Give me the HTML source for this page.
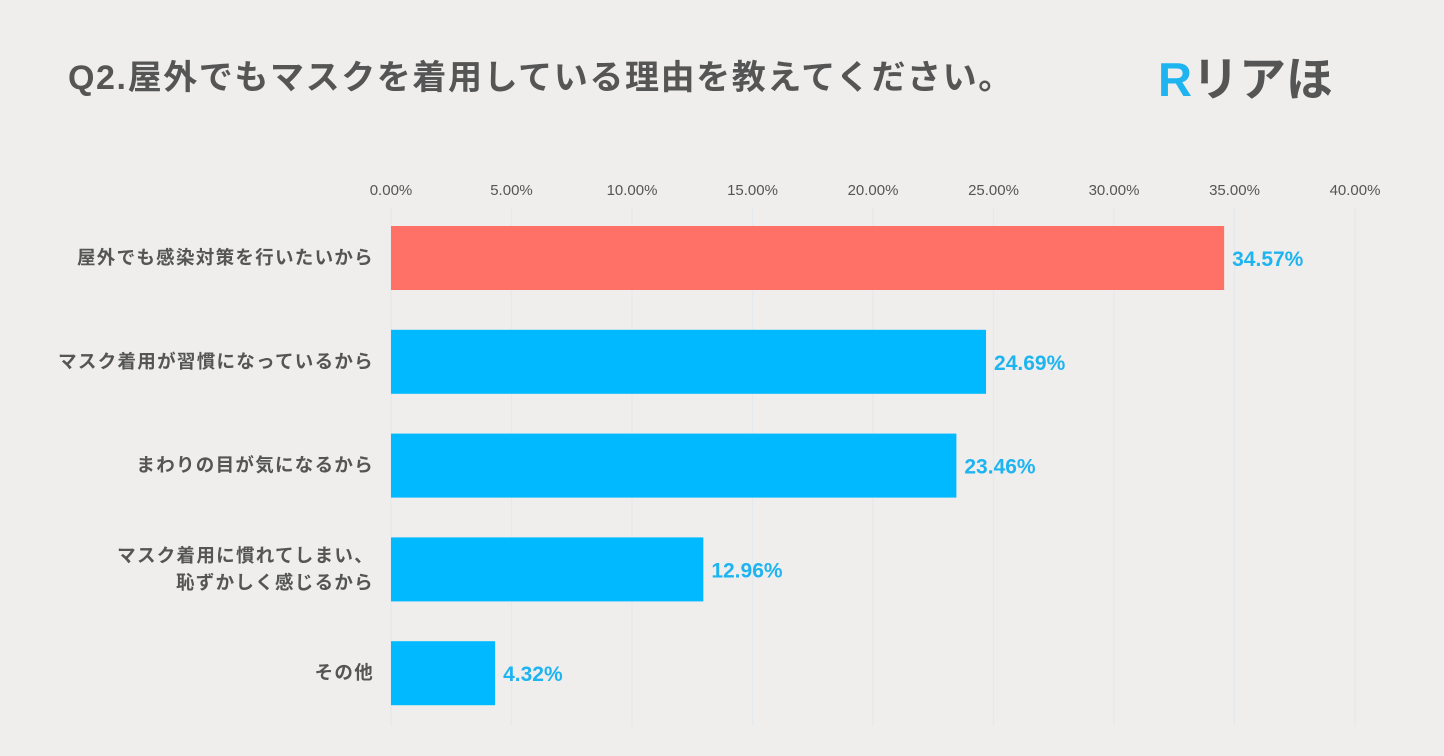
<!DOCTYPE html>
<html><head><meta charset="utf-8"><style>
html,body{margin:0;padding:0;background:#efeeed;}
body{width:1444px;height:756px;position:relative;overflow:hidden;font-family:"Liberation Sans","Noto Sans CJK JP",sans-serif;}
#title{position:absolute;left:68px;top:50px;font-size:34px;font-weight:bold;color:#555;letter-spacing:1.6px;white-space:nowrap;}
#logo{position:absolute;left:1158px;top:50px;font-size:47px;font-weight:bold;color:#555;white-space:nowrap;line-height:60px;}
#logo .r{color:#1eb4f0;}
</style></head><body>
<div id="title">Q2.屋外でもマスクを着用している理由を教えてください。</div>
<div id="logo"><span class="r">R</span>リアほ</div>
<svg id="chart" width="1444" height="756" style="position:absolute;left:0;top:0"></svg>
<script>
const categories=[["屋外でも感染対策を行いたいから"],["マスク着用が習慣になっているから"],["まわりの目が気になるから"],["マスク着用に慣れてしまい、","恥ずかしく感じるから"],["その他"]];
const values=[34.57,24.69,23.46,12.96,4.32];
const valueLabels=["34.57%","24.69%","23.46%","12.96%","4.32%"];
const ticks=[0,5,10,15,20,25,30,35,40];
const tickLabels=["0.00%","5.00%","10.00%","15.00%","20.00%","25.00%","30.00%","35.00%","40.00%"];
const svg=document.getElementById('chart');
const NS='http://www.w3.org/2000/svg';
const x=v=>391+v*24.1;
const y=i=>258+i*103.8;
function mk(t,a){const e=document.createElementNS(NS,t);for(const k in a)e.setAttribute(k,a[k]);svg.appendChild(e);return e;}
ticks.forEach((t,i)=>{
  const l=mk('line',{x1:x(t),x2:x(t),y1:207,y2:726,stroke:'#e6e9ec','stroke-width':1.5});
  
  
  const tx=mk('text',{x:x(t),y:195,'text-anchor':'middle','font-size':15,fill:'#555'});
  tx.textContent=tickLabels[i];
  
  
});
values.forEach((v,i)=>{
  const b=mk('rect',{x:x(0),y:y(i)-32,width:x(v)-x(0),height:64,fill:i===0?'#ff7067':'#00b9ff'});
  
  
  const vl=mk('text',{x:x(v)+8,y:y(i)+8,'font-size':21,'font-weight':'bold',fill:'#1eb4f0'});
  vl.textContent=valueLabels[i];
  
  
  const lines=categories[i];
  lines.forEach((s,j)=>{
    const c=mk('text',{x:374,y:y(i)+6+(j-(lines.length-1)/2)*27,'text-anchor':'end','font-size':18.5,'font-weight':'bold',fill:'#555','letter-spacing':1.3});
    c.textContent=s;
    
    
  });
});
</script>
</body></html>
